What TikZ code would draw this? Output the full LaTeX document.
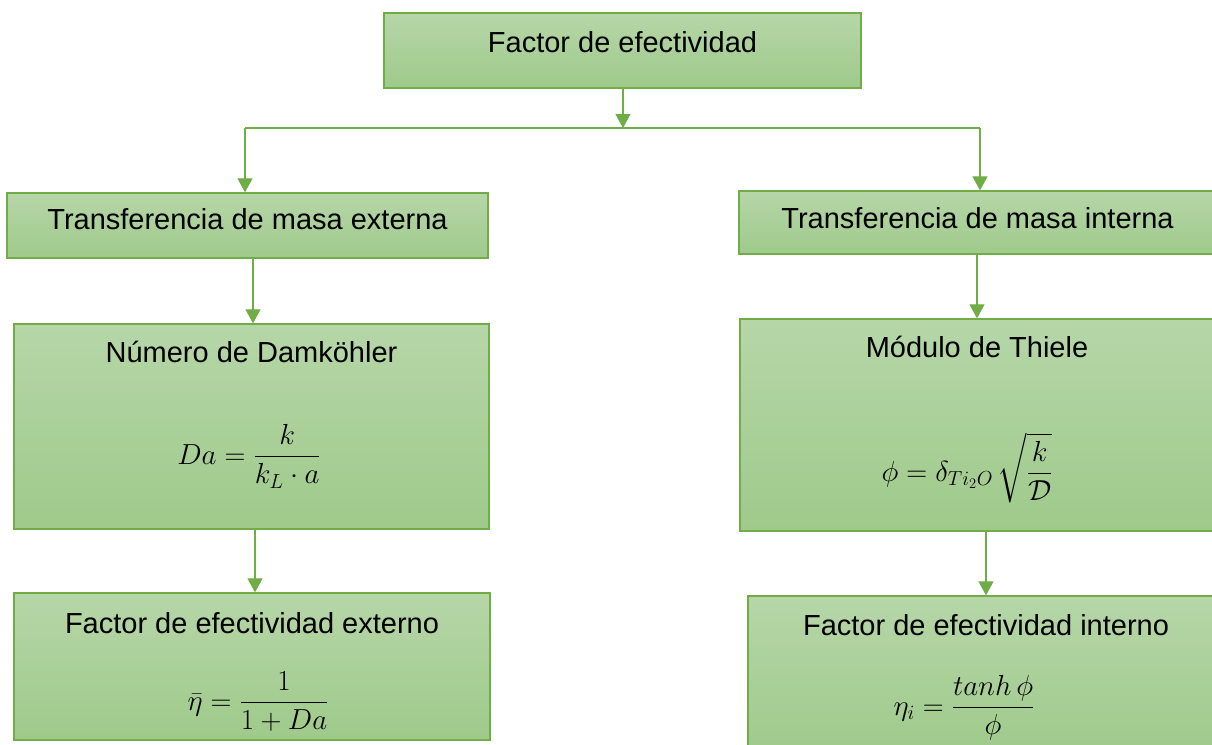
\RequirePackage{fix-cm}
\documentclass[tikz,border=0pt]{standalone}
\usepackage{amsmath, amssymb}
\usepackage[no-math]{fontspec}
\setmainfont{Liberation Sans}
\usetikzlibrary{positioning,arrows.meta}
\definecolor{boxtop}{RGB}{182,214,168}
\definecolor{boxbot}{RGB}{159,202,139}
\definecolor{boxline}{RGB}{112,173,71}
\begin{document}
\begin{tikzpicture}[x=1pt,y=-1pt,
    box/.style={draw=boxline,line width=1.3pt,top color=boxtop,bottom color=boxbot,inner sep=0pt},
    title/.style={inner sep=0pt,text height=21pt,text depth=6pt,font=\fontsize{29}{34}\selectfont},
    formula/.style={inner sep=0pt,anchor=base,font=\fontsize{29}{34}\selectfont},
    arr/.style={draw=boxline,line width=1.2pt,-{Triangle[length=14pt,width=15pt]}}]
    \useasboundingbox (0,0) rectangle (1212,744);
    % boxes
    \node[box,minimum width=477pt,minimum height=75pt] (top) at (622.5,50.5) {};
    \node[box,minimum width=481pt,minimum height=65pt] (ext) at (247.5,225.5) {};
    \node[box,minimum width=477pt,minimum height=63pt] (int) at (977.5,222.5) {};
    \node[box,minimum width=475pt,minimum height=205pt] (dam) at (251.5,426.5) {};
    \node[box,minimum width=474pt,minimum height=212pt] (thi) at (977,425) {};
    \node[box,minimum width=476pt,minimum height=147pt] (efe) at (252,666.5) {};
    \node[box,minimum width=476pt,minimum height=160pt] (efi) at (986,676) {};
    % titles
    \node[title,below=19pt of top.north] (ttop) {Factor de efectividad};
    \node[title,below=16pt of ext.north] (text) {Transferencia de masa externa};
    \node[title,below=17pt of int.north] (tint) {Transferencia de masa interna};
    \node[title,below=18pt of dam.north] (tdam) {Número de Damköhler};
    \node[title,below=18pt of thi.north] (tthi) {Módulo de Thiele};
    \node[title,below=20pt of efe.north] (tefe) {Factor de efectividad externo};
    \node[title,below=19pt of efi.north] (tefi) {Factor de efectividad interno};
    % formulas
    \node[formula] (fdam) at (249,464) {$\displaystyle Da=\frac{k}{k_L\cdot a}$};
    \node[formula] (fthi) at (967,481) {$\displaystyle \phi=\delta_{Ti_2O}\,\sqrt{\frac{k}{\mathcal{D}}}$};
    \node[formula] (fefe) at (258,710) {$\displaystyle \bar{\eta}=\frac{1}{1+Da}$};
    \node[formula] (fefi) at (964,715) {$\displaystyle \eta_i=\frac{tanh\,\phi}{\phi}$};
    % connectors
    \coordinate (bus) at (623,128);
    \coordinate (bl) at (245,128);
    \coordinate (br) at (980,128);
    \coordinate (dl) at ([xshift=1.5pt]dam.north);
    \coordinate (el) at ([xshift=3pt]efe.north);
    \draw[arr] (top.south -| bus) -- (bus);
    \draw[boxline,line width=1.2pt] (bl) -- (br);
    \draw[arr] (bl) -- (bl |- ext.north);
    \draw[arr] (br) -- (br |- int.north);
    \draw[arr] (dl |- ext.south) -- (dl);
    \draw[arr] (el |- dam.south) -- (el);
    \draw[arr] (thi.north |- int.south) -- (thi.north);
    \draw[arr] (efi.north |- thi.south) -- (efi.north);
\end{tikzpicture}
\end{document}
